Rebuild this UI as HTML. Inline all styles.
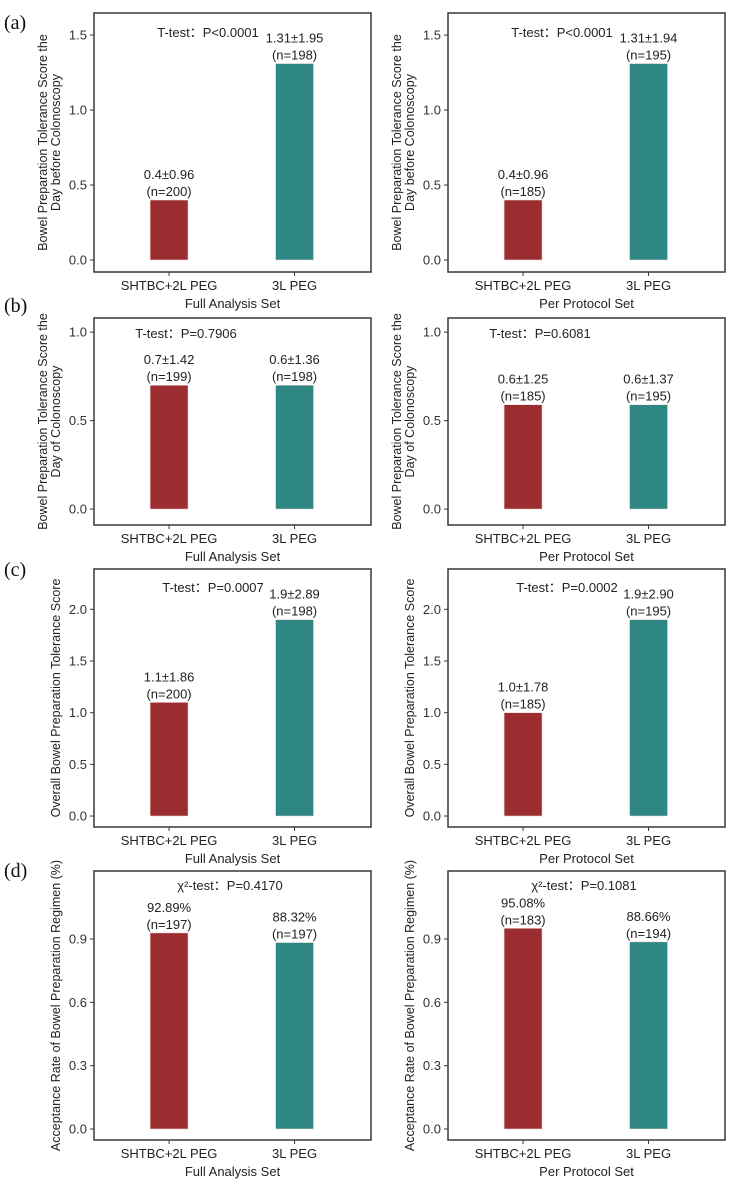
<!DOCTYPE html>
<html><head><meta charset="utf-8">
<style>
html,body{margin:0;padding:0;background:#fff;}
svg{display:block;font-family:"Liberation Sans",Arial,sans-serif;}
</style></head>
<body>
<svg id="fig" width="729" height="1184" viewBox="0 0 729 1184"></svg>
<script>
const categories = ["SHTBC+2L PEG", "3L PEG"];
const setNames = ["Full Analysis Set", "Per Protocol Set"];
const panelLetters = ["(a)", "(b)", "(c)", "(d)"];
const yTitles = [
  ["Bowel Preparation Tolerance Score the", "Day before Colonoscopy"],
  ["Bowel Preparation Tolerance Score the", "Day of Colonoscopy"],
  ["Overall Bowel Preparation Tolerance Score"],
  ["Acceptance Rate of Bowel Preparation Regimen (%)"]
];
const yTicks = [
  [0, 0.5, 1.0, 1.5],
  [0, 0.5, 1.0],
  [0, 0.5, 1.0, 1.5, 2.0],
  [0, 0.3, 0.6, 0.9]
];
const yDomains = [[-0.08, 1.647], [-0.09, 1.08], [-0.106, 2.39], [-0.052, 1.222]];
const valuesFull = [[0.4, 1.31], [0.7, 0.7], [1.1, 1.9], [0.9289, 0.8832]];
const valuesPP = [[0.4, 1.31], [0.59, 0.59], [1.0, 1.9], [0.9508, 0.8866]];
const labelsFull = [
  [["0.4±0.96", "(n=200)"], ["1.31±1.95", "(n=198)"]],
  [["0.7±1.42", "(n=199)"], ["0.6±1.36", "(n=198)"]],
  [["1.1±1.86", "(n=200)"], ["1.9±2.89", "(n=198)"]],
  [["92.89%", "(n=197)"], ["88.32%", "(n=197)"]]
];
const labelsPP = [
  [["0.4±0.96", "(n=185)"], ["1.31±1.94", "(n=195)"]],
  [["0.6±1.25", "(n=185)"], ["0.6±1.37", "(n=195)"]],
  [["1.0±1.78", "(n=185)"], ["1.9±2.90", "(n=195)"]],
  [["95.08%", "(n=183)"], ["88.66%", "(n=194)"]]
];
const testsFull = ["T-test：P<0.0001", "T-test：P=0.7906", "T-test：P=0.0007", "χ²-test：P=0.4170"];
const testsPP = ["T-test：P<0.0001", "T-test：P=0.6081", "T-test：P=0.0002", "χ²-test：P=0.1081"];
const tickDecimals = [1, 1, 1, 1];

// layout (not data)
const rowBox = [[13, 272], [318, 525], [569, 827], [871, 1140]];
const colBox = [[94, 371], [448, 725]];
const testOffsets = [[114, 19], [92, 15], [119, 18], [136, 14]];
const letterY = [22, 305, 569, 870];
const colors = ["#9b2d30", "#2e8783"];
const NS = "http://www.w3.org/2000/svg";
const svg = document.getElementById("fig");

function el(tag, attrs, parent) {
  const e = document.createElementNS(NS, tag);
  for (const k in attrs) e.setAttribute(k, attrs[k]);
  (parent || svg).appendChild(e);
  return e;
}
function txt(s, attrs, parent) { const t = el("text", attrs, parent); t.textContent = s; return t; }

function drawPanel(r, c, vals, labels, test) {
  const g = el("g", {});
  
  
  const [x0, x1] = colBox[c];
  const [top, bot] = rowBox[r];
  const [dmin, dmax] = yDomains[r];
  const yScale = v => bot - (v - dmin) / (dmax - dmin) * (bot - top);
  const w = x1 - x0;
  const xCenter = i => x0 + w * (i === 0 ? 0.271 : 0.724);
  const bw = 38;
  vals.forEach((v, i) => {
    const y = yScale(v), y0 = yScale(0);
    const b = el("rect", {x: xCenter(i) - bw / 2, y: y, width: bw, height: y0 - y, fill: colors[i], stroke: "#f2dede", "stroke-width": 0.6}, g);
    
    
    const l1 = txt(labels[i][0], {x: xCenter(i), y: y - 21, "text-anchor": "middle", "font-size": 13, fill: "#222"}, g);
    
    
    const l2 = txt(labels[i][1], {x: xCenter(i), y: y - 4, "text-anchor": "middle", "font-size": 13, fill: "#222"}, g);
    
    
  });
  const f = el("rect", {x: x0, y: top, width: w, height: bot - top, fill: "none", stroke: "#3d3535", "stroke-width": 1.5}, g);
  
  
  yTicks[r].forEach(t => {
    const y = yScale(t);
    el("line", {x1: x0 - 4, x2: x0, y1: y, y2: y, stroke: "#3d3535", "stroke-width": 1}, g);
    const tl = txt(t.toFixed(tickDecimals[r]), {x: x0 - 7, y: y + 4.5, "text-anchor": "end", "font-size": 13, fill: "#333"}, g);
    
    
  });
  categories.forEach((cat, i) => {
    const x = xCenter(i);
    el("line", {x1: x, x2: x, y1: bot, y2: bot + 4, stroke: "#3d3535", "stroke-width": 1}, g);
    const xl = txt(cat, {x: x, y: bot + 18, "text-anchor": "middle", "font-size": 13, fill: "#222"}, g);
    
    
  });
  const xt = txt(setNames[c], {x: x0 + w * 0.5, y: bot + 36, "text-anchor": "middle", "font-size": 13, fill: "#222"}, g);
  
  
  const cy = (top + bot) / 2;
  const lines = yTitles[r];
  lines.forEach((s, k) => {
    const bx = lines.length === 1 ? x0 - 34 : (k === 0 ? x0 - 47 : x0 - 34);
    const yt = txt(s, {x: 0, y: 0, "text-anchor": "middle", "font-size": 12.5, fill: "#222",
      transform: `translate(${bx},${cy}) rotate(-90)`}, g);
    
    
  });
  const an = txt(test, {x: x0 + testOffsets[r][0], y: top + testOffsets[r][1] + 5, "text-anchor": "middle", "font-size": 13, fill: "#222"}, g);
  
  
}

for (let r = 0; r < 4; r++) {
  const pl = txt(panelLetters[r], {x: 4, y: letterY[r] + 7, "font-size": 20, fill: "#111", "font-family": "Liberation Serif, serif"});
  
  
  drawPanel(r, 0, valuesFull[r], labelsFull[r], testsFull[r]);
  drawPanel(r, 1, valuesPP[r], labelsPP[r], testsPP[r]);
}
</script>
</body></html>
